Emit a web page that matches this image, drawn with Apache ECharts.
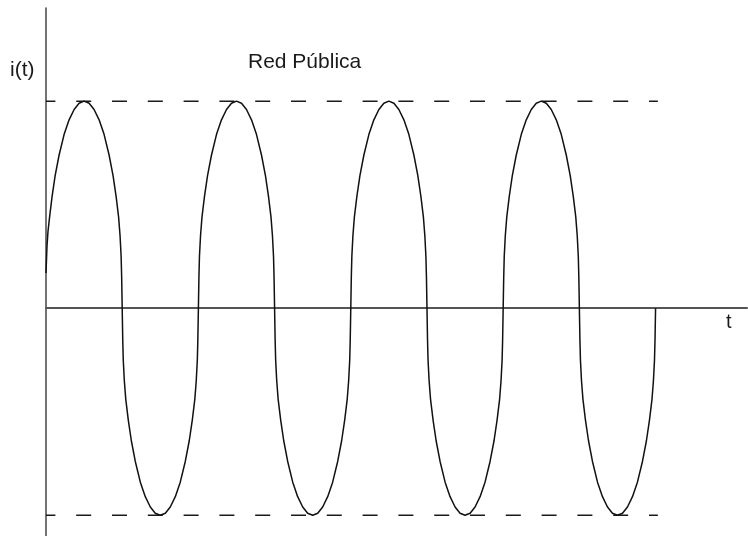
<!DOCTYPE html>
<html>
<head>
<meta charset="utf-8">
<script src="https://cdn.jsdelivr.net/npm/echarts@6/dist/echarts.min.js"></script>
<style>
html,body{margin:0;padding:0;background:#fff;}
#chart{width:748px;height:536px;}
</style>
</head>
<body>
<div id="chart"></div>
<script>
// Time in ms (50 Hz public grid), current normalised to peak value
const tMs = [
  0, 0.13, 0.26, 0.47, 0.8, 1.2, 1.72, 2.38, 3.03, 3.69, 4.34, 5,
  5.66, 6.31, 6.97, 7.62, 8.28, 8.8, 9.2, 9.53, 9.72, 9.86, 9.93, 10,
  10.07, 10.14, 10.28, 10.47, 10.8, 11.2, 11.72, 12.38, 13.03, 13.69, 14.34, 15,
  15.66, 16.31, 16.97, 17.62, 18.28, 18.8, 19.2, 19.53, 19.72, 19.86, 19.93, 20,
  20.07, 20.14, 20.28, 20.47, 20.8, 21.2, 21.72, 22.38, 23.03, 23.69, 24.34, 25,
  25.66, 26.31, 26.97, 27.62, 28.28, 28.8, 29.2, 29.53, 29.72, 29.86, 29.93, 30,
  30.07, 30.14, 30.28, 30.47, 30.8, 31.2, 31.72, 32.38, 33.03, 33.69, 34.34, 35,
  35.66, 36.31, 36.97, 37.62, 38.28, 38.8, 39.2, 39.53, 39.72, 39.86, 39.93, 40,
  40.07, 40.14, 40.28, 40.47, 40.8, 41.2, 41.72, 42.38, 43.03, 43.69, 44.34, 45,
  45.66, 46.31, 46.97, 47.62, 48.28, 48.8, 49.2, 49.53, 49.72, 49.86, 49.93, 50,
  50.07, 50.14, 50.28, 50.47, 50.8, 51.2, 51.72, 52.38, 53.03, 53.69, 54.34, 55,
  55.66, 56.31, 56.97, 57.62, 58.28, 58.8, 59.2, 59.53, 59.72, 59.86, 59.93, 60,
  60.07, 60.14, 60.28, 60.47, 60.8, 61.2, 61.72, 62.38, 63.03, 63.69, 64.34, 65,
  65.66, 66.31, 66.97, 67.62, 68.28, 68.8, 69.2, 69.53, 69.72, 69.86, 69.93, 70,
  70.07, 70.14, 70.28, 70.47, 70.8, 71.2, 71.72, 72.38, 73.03, 73.69, 74.34, 75,
  75.66, 76.31, 76.97, 77.62, 78.28, 78.8, 79.2, 79.53, 79.72, 79.86, 79.93, 80
];
const current = [
  0.17, 0.30, 0.37, 0.44, 0.54, 0.64, 0.74, 0.84, 0.91, 0.96, 0.99, 1,
  0.99, 0.96, 0.91, 0.84, 0.74, 0.64, 0.54, 0.44, 0.35, 0.25, 0.15, 0,
  -0.15, -0.25, -0.35, -0.44, -0.54, -0.64, -0.74, -0.84, -0.91, -0.96, -0.99, -1,
  -0.99, -0.96, -0.91, -0.84, -0.74, -0.64, -0.54, -0.44, -0.35, -0.25, -0.15, 0,
  0.15, 0.25, 0.35, 0.44, 0.54, 0.64, 0.74, 0.84, 0.91, 0.96, 0.99, 1,
  0.99, 0.96, 0.91, 0.84, 0.74, 0.64, 0.54, 0.44, 0.35, 0.25, 0.15, 0,
  -0.15, -0.25, -0.35, -0.44, -0.54, -0.64, -0.74, -0.84, -0.91, -0.96, -0.99, -1,
  -0.99, -0.96, -0.91, -0.84, -0.74, -0.64, -0.54, -0.44, -0.35, -0.25, -0.15, 0,
  0.15, 0.25, 0.35, 0.44, 0.54, 0.64, 0.74, 0.84, 0.91, 0.96, 0.99, 1,
  0.99, 0.96, 0.91, 0.84, 0.74, 0.64, 0.54, 0.44, 0.35, 0.25, 0.15, 0,
  -0.15, -0.25, -0.35, -0.44, -0.54, -0.64, -0.74, -0.84, -0.91, -0.96, -0.99, -1,
  -0.99, -0.96, -0.91, -0.84, -0.74, -0.64, -0.54, -0.44, -0.35, -0.25, -0.15, 0,
  0.15, 0.25, 0.35, 0.44, 0.54, 0.64, 0.74, 0.84, 0.91, 0.96, 0.99, 1,
  0.99, 0.96, 0.91, 0.84, 0.74, 0.64, 0.54, 0.44, 0.35, 0.25, 0.15, 0,
  -0.15, -0.25, -0.35, -0.44, -0.54, -0.64, -0.74, -0.84, -0.91, -0.96, -0.99, -1,
  -0.99, -0.96, -0.91, -0.84, -0.74, -0.64, -0.54, -0.44, -0.35, -0.25, -0.15, 0
];
const peakLevels = [1, -1];
const refLineEnd = 80.3;
const titleText = 'Red Pública';
const yName = 'i(t)';
const xName = 't';

const chart = echarts.init(document.getElementById('chart'), null, {renderer: 'canvas'});
const FONT = '"Liberation Sans", Arial, sans-serif';

const curveData = tMs.map((t, k) => [t, current[k]]);
const refSeries = peakLevels.map(v => ({
  type: 'line',
  data: [[0, v], [refLineEnd, v]],
  symbol: 'none',
  silent: true,
  z: 2,
  lineStyle: {color: '#1a1a1a', width: 1.5, type: [15, 20.8], dashOffset: 5.6}
}));

chart.setOption({
  animation: false,
  backgroundColor: '#ffffff',
  grid: {left: 46, right: 1, top: 8, bottom: 0, containLabel: false},
  xAxis: {
    type: 'value', min: 0, max: 92,
    axisLine: {show: true, onZero: true, lineStyle: {color: '#555555', width: 2}},
    axisTick: {show: false}, axisLabel: {show: false}, splitLine: {show: false}
  },
  yAxis: {
    type: 'value', min: -1.1, max: 1.45,
    axisLine: {show: true, onZero: false, lineStyle: {color: '#444444', width: 1.5}},
    axisTick: {show: false}, axisLabel: {show: false}, splitLine: {show: false}
  },
  graphic: [
    {type: 'text', left: 248, top: 52, style: {text: titleText, font: '21px ' + FONT, fill: '#1a1a1a'}},
    {type: 'text', left: 10, top: 60, style: {text: yName, font: '21px ' + FONT, fill: '#1a1a1a'}},
    {type: 'text', left: 726, top: 312, style: {text: xName, font: '20px ' + FONT, fill: '#1a1a1a'}}
  ],
  series: [
    ...refSeries,
    {
      type: 'line',
      data: curveData,
      symbol: 'none',
      smooth: false,
      z: 3,
      lineStyle: {color: '#111111', width: 1.5}
    }
  ]
});
</script>
</body>
</html>
